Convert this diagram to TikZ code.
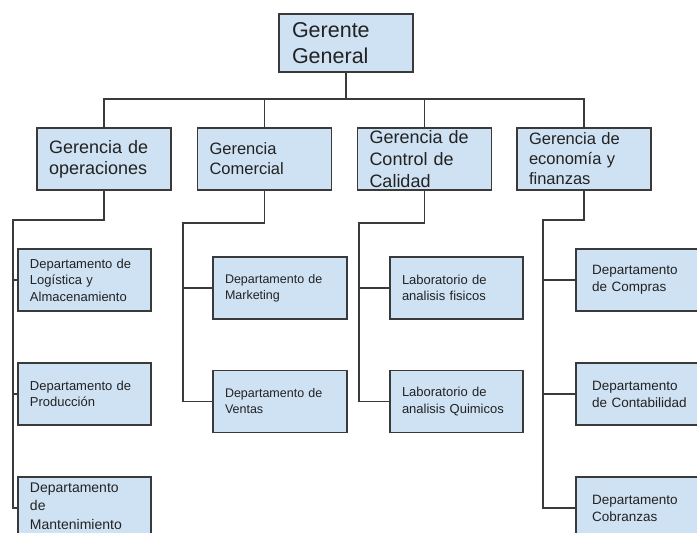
\documentclass[tikz,border=0pt]{standalone}
\usepackage{fontspec}
\setmainfont{Liberation Sans}
\definecolor{boxfill}{HTML}{CFE2F3}
\definecolor{boxline}{HTML}{3A3A3A}
\definecolor{txt}{HTML}{222222}
\newcommand{\orgnode}[5]{% name, pos, width, font, text
  \node[orgbox, minimum width=#3] (#1) at (#2) {};
  \node[orgtext, text width=#3-24pt, font=#4] (#1T) at (#1.center) {#5};}
\begin{document}
\begin{tikzpicture}[x=1pt,y=-1pt,
  orgbox/.style={draw=boxline, fill=boxfill, line width=1.2pt, minimum height=62pt, inner sep=0pt},
  orgtext/.style={inner sep=0pt, align=left, text=txt},
  conn/.style={draw=boxline, line width=1.2pt}]
\path[use as bounding box, fill=white] (0,0) rectangle (697,533);
\clip (0,0) rectangle (697,533);

% coordinates of buses
\coordinate (hbar) at (0,99);
\coordinate (b1) at (13,220);
\coordinate (b2) at (183,223);
\coordinate (b3) at (359,223);
\coordinate (b4) at (543,220);

% --- boxes ---
\node[orgbox, minimum width=134pt, minimum height=58pt] (gg) at (346,43) {};
\node[orgtext, text width=108pt, font=\fontsize{21.5}{26.5}\selectfont] (ggT) at (gg.center) {Gerente\\General};

\orgnode{op}{104,159}{134pt}{\fontsize{18}{21}\selectfont}{Gerencia de\\operaciones}
\orgnode{com}{264.5,159}{134pt}{\fontsize{16.5}{20}\selectfont}{Gerencia\\Comercial}
\orgnode{cal}{424.5,159}{134pt}{\fontsize{18}{22}\selectfont}{Gerencia de\\Control de\\Calidad}
\orgnode{eco}{584,159}{134pt}{\fontsize{16.5}{20}\selectfont}{Gerencia de\\econom\'ia y\\finanzas}

\orgnode{log}{84.5,280}{133pt}{\fontsize{13}{16.5}\selectfont}{Departamento de\\Log\'istica y\\Almacenamiento}
\orgnode{pro}{84.5,394}{133pt}{\fontsize{13}{16.5}\selectfont}{Departamento de\\Producci\'on}
\node[orgbox, minimum width=133pt] (man) at (84.5,508) {};
\node[orgtext, text width=109pt, font=\fontsize{14}{18.5}\selectfont] (manT) at (84.5,506) {Departamento\\de\\Mantenimiento};

\orgnode{mkt}{280,288}{134pt}{\fontsize{12.5}{16}\selectfont}{Departamento de\\Marketing}
\orgnode{ven}{280,401.5}{134pt}{\fontsize{12.5}{16}\selectfont}{Departamento de\\Ventas}

\orgnode{lb1}{456.5,288}{133pt}{\fontsize{13}{16.5}\selectfont}{Laboratorio de\\analisis fisicos}
\orgnode{lb2}{456.5,401.5}{133pt}{\fontsize{13}{16.5}\selectfont}{Laboratorio de\\analisis Quimicos}

\orgnode{cmp}{647,280}{142pt}{\fontsize{13.5}{17}\selectfont}{\hspace*{4pt}Departamento\\\hspace*{4pt}de Compras}
\orgnode{cnt}{647,394}{142pt}{\fontsize{13.5}{17}\selectfont}{\hspace*{4pt}Departamento\\\hspace*{4pt}de Contabilidad}
\orgnode{cob}{647,508}{142pt}{\fontsize{13.5}{17}\selectfont}{\hspace*{4pt}Departamento\\\hspace*{4pt}Cobranzas}

% --- connectors ---
\draw[conn] (gg.south) -- (gg.south |- hbar);
\draw[conn] (op.north) |- (eco.north |- hbar) -- (eco.north);
\draw[conn] (com.north) -- (com.north |- hbar);
\draw[conn] (cal.north) -- (cal.north |- hbar);

\draw[conn] (op.south) |- (b1) |- (man.west);
\draw[conn] (b1 |- log.west) -- (log.west);
\draw[conn] (b1 |- pro.west) -- (pro.west);

\draw[conn] (com.south) |- (b2) |- (ven.west);
\draw[conn] (b2 |- mkt.west) -- (mkt.west);

\draw[conn] (cal.south) |- (b3) |- (lb2.west);
\draw[conn] (b3 |- lb1.west) -- (lb1.west);

\draw[conn] (eco.south) |- (b4) |- (cob.west);
\draw[conn] (b4 |- cmp.west) -- (cmp.west);
\draw[conn] (b4 |- cnt.west) -- (cnt.west);
\end{tikzpicture}
\end{document}
